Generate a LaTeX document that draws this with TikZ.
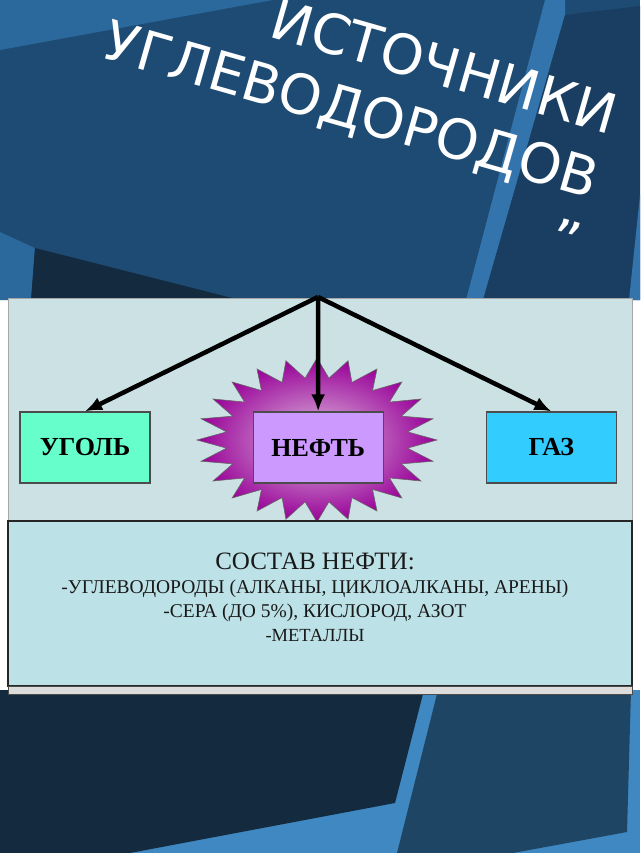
\documentclass[tikz,border=0pt]{standalone}
\usepackage{fontspec}
\setmainfont{Liberation Serif}
\newfontfamily\titlefont{DejaVu Sans}
\usetikzlibrary{arrows.meta,positioning,calc}

\definecolor{bgmid}{HTML}{1D4B73}
\definecolor{bglight}{HTML}{2B689B}
\definecolor{bgstripe}{HTML}{3274AB}
\definecolor{bgdark}{HTML}{1A3E62}
\definecolor{bgdeep}{HTML}{132A3F}
\definecolor{bglow}{HTML}{3F88C2}
\definecolor{bgpanel}{HTML}{1F4564}
\definecolor{panelup}{HTML}{CCE1E4}
\definecolor{paneldown}{HTML}{BCE1E6}
\definecolor{panelgray}{HTML}{DCDCDC}
\definecolor{ugolcol}{HTML}{66FFCC}
\definecolor{neftcol}{HTML}{CC99FF}
\definecolor{gazcol}{HTML}{33CCFF}

\begin{document}
\begin{tikzpicture}[x=1pt, y=-1pt,
    box/.style={draw=black!70, line width=1.2pt, minimum width=130pt,
      minimum height=71pt, inner sep=0pt,
      font=\bfseries\fontsize{26}{30}\selectfont},
    arr/.style={-{Latex[length=17pt,width=14pt]}, line width=4.5pt},
    burst/.style={draw=black!60, line width=0.6pt, inner color=violet!25!white,
      outer color=violet!60!magenta!85!black}]
  \useasboundingbox (0,0) rectangle (640,853);
  % background
  \fill[bgmid] (0,0) rectangle (640,300);
  \fill[bglight] (0,0) -- (273,0) -- (0,50) -- cycle;
  \fill[bgstripe] (545,0) -- (565,0) -- (565,15) -- (483,300) -- (466,300) -- cycle;
  \fill[bgdark] (565,15) -- (640,6) -- (640,300) -- (483,300) -- cycle;
  \fill[bgstripe] (640,195) -- (640,300) -- (629,300) -- cycle;
  \fill[bglight] (0,232) -- (35,248) -- (31,300) -- (0,300) -- cycle;
  \fill[bgdeep] (35,248) -- (240,300) -- (31,300) -- cycle;
  \fill[bglow] (0,690) rectangle (640,853);
  \fill[bgdeep] (0,690) -- (424,690) -- (395,803) -- (130,853) -- (0,853) -- cycle;
  \fill[bgpanel] (438,690) -- (631,690) -- (627,832) -- (513,853) -- (397,853) -- cycle;

  % title
  \node[text=white, anchor=north east, rotate=-16, align=right, inner sep=0pt,
    font=\titlefont\fontsize{55}{67}\selectfont] (zag) at (622,95)
    {ИСТОЧНИКИ\\УГЛЕВОДОРОДОВ\\”};

  % upper panel
  \fill[panelup, draw=black!35] (8,298) rectangle (632,521);
  \draw[burst] plot[domain=0:352.5, samples=48, variable=\a]
    ({317+120*ifthenelse(mod(round(\a/7.5),2)==0,1,0.76)*cos(\a)},
     {440+82*ifthenelse(mod(round(\a/7.5),2)==0,1,0.76)*sin(\a)}) -- cycle;

  % boxes
  \node[box, fill=ugolcol] (ugol) at (85,447.5) {УГОЛЬ};
  \node[box, fill=neftcol] (neft) [right =102pt of ugol] {НЕФТЬ};
  \node[box, fill=gazcol] (gaz) [right =102pt of neft] {ГАЗ};
  \coordinate (top) at (318,297);
  % arrows
  \draw[arr] (top) -- (ugol.north);
  \draw[arr] (top) -- (neft.north);
  \draw[arr] (top) -- (gaz.north);

  % lower panel
  \fill[paneldown, draw=black!85, line width=1.2pt] (8,521) rectangle (632,686);
  \fill[panelgray, draw=black!70] (8,686) rectangle (632,694);
  \node[align=center, inner sep=0pt, text=black!90,
    font=\fontsize{19.5}{24}\selectfont] (sostav) at (315,597)
    {{\fontsize{25}{26}\selectfont СОСТАВ НЕФТИ:}\\
     -УГЛЕВОДОРОДЫ (АЛКАНЫ, ЦИКЛОАЛКАНЫ, АРЕНЫ)\\
     -СЕРА (ДО 5\%), КИСЛОРОД, АЗОТ\\
     {\fontsize{18.5}{22}\selectfont -МЕТАЛЛЫ}};
\end{tikzpicture}
\end{document}
